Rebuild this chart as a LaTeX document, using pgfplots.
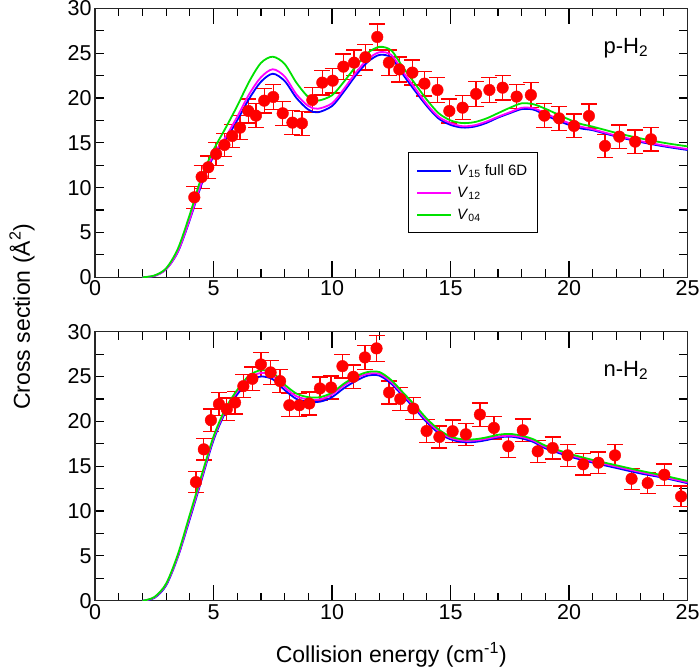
\documentclass[border=0pt]{standalone}
\usepackage{pgfplots}
\usepackage{pgfplotstable}
\pgfplotsset{compat=1.18}
\usepackage{fontspec}
\setmainfont{Liberation Sans}
\definecolor{cblue}{RGB}{0,0,255}
\definecolor{cmag}{RGB}{255,0,255}
\definecolor{cgreen}{RGB}{0,225,0}

% top panel experimental data (p-H2)
\pgfplotstableread{
x y e
4.19 8.92 1.22
4.50 11.19 1.25
4.78 12.27 1.26
5.11 13.75 1.28
5.46 14.76 1.29
5.79 15.76 1.30
6.12 16.69 1.32
6.47 18.55 1.34
6.79 18.03 1.33
7.14 19.70 1.36
7.52 20.11 1.36
7.92 18.29 1.34
8.33 17.25 1.32
8.73 17.17 1.32
9.17 19.78 1.36
9.59 21.71 1.38
10.03 21.93 1.39
10.48 23.49 1.41
10.93 23.94 1.41
11.41 24.54 1.42
11.91 26.80 1.45
12.40 23.94 1.41
12.84 23.18 1.40
13.39 22.83 1.40
13.90 21.60 1.38
14.45 20.89 1.37
14.95 18.55 1.34
15.51 18.92 1.35
16.08 20.45 1.37
16.64 20.89 1.37
17.20 21.15 1.37
17.79 20.15 1.36
18.39 20.33 1.36
18.96 18.03 1.33
19.58 17.73 1.33
20.21 16.88 1.32
20.84 17.99 1.33
21.52 14.65 1.29
22.12 15.69 1.30
22.79 15.13 1.30
23.46 15.39 1.30
}\pdata

% bottom panel experimental data (n-H2)
\pgfplotstableread{
x y e
4.26 13.23 1.15
4.59 16.88 1.20
4.89 20.13 1.25
5.23 21.92 1.27
5.56 21.36 1.26
5.91 22.10 1.27
6.26 23.93 1.30
6.64 24.75 1.31
7.00 26.35 1.33
7.41 25.46 1.32
7.81 24.49 1.30
8.20 21.80 1.27
8.62 21.80 1.27
9.04 21.99 1.27
9.49 23.67 1.29
9.96 23.78 1.29
10.44 26.16 1.33
10.90 24.97 1.31
11.39 27.13 1.35
11.88 28.14 1.47
12.41 23.22 1.29
12.88 22.50 1.28
13.43 21.43 1.26
13.99 18.93 1.25
14.53 18.26 1.24
15.09 18.90 1.25
15.65 18.56 1.24
16.24 20.76 1.30
16.83 19.27 1.25
17.44 17.22 1.22
18.05 19.01 1.25
18.68 16.66 1.22
19.31 17.03 1.22
19.94 16.21 1.21
20.60 15.21 1.20
21.24 15.39 1.20
21.94 16.21 1.21
22.64 13.60 1.18
23.32 13.12 1.17
24.02 14.05 1.18
24.73 11.63 1.15
}\ndata

% theory curves, top panel: x, V04 (green), V12 (magenta), V15 (blue)
\pgfplotstableread{
x g m b
2.0 0 0 0
2.5 0.2 0.15 0.15
3.0 1.0 0.9 0.9
3.5 3.2 2.9 2.85
4.0 7.0 6.5 6.4
4.5 11.2 10.6 10.4
5.0 14.2 13.7 13.5
5.5 16.6 15.6 15.3
6.0 19.1 17.9 17.5
6.5 21.8 20.4 19.9
7.0 23.9 22.3 21.8
7.5 24.6 23.2 22.7
8.0 23.8 22.4 21.9
8.5 21.7 20.4 20.0
9.0 20.1 19.1 18.7
9.4 19.7 18.8 18.4
10.0 20.3 19.4 19.1
10.5 21.8 21.0 20.7
11.0 23.5 22.8 22.5
11.5 25.0 24.3 24.0
12.0 25.7 25.1 24.8
12.5 25.3 24.8 24.5
13.0 23.4 22.9 22.6
13.5 21.6 21.1 20.8
14.0 19.8 19.3 19.1
14.5 18.3 17.9 17.7
15.0 17.5 17.2 17.0
15.5 17.2 16.85 16.7
16.0 17.3 16.95 16.8
16.5 17.7 17.35 17.2
17.0 18.3 17.9 17.8
17.5 18.9 18.4 18.3
18.0 19.4 18.9 18.75
18.5 19.3 18.85 18.7
19.0 18.8 18.3 18.1
19.5 18.2 17.7 17.5
20.0 17.6 17.2 17.0
20.5 17.1 16.8 16.6
21.0 16.8 16.5 16.4
22.0 16.1 15.8 15.7
23.0 15.5 15.2 15.1
24.0 15.0 14.7 14.6
25.0 14.6 14.3 14.2
}\ptheory

% theory curves, bottom panel
\pgfplotstableread{
x g m b
2.0 0 0 0
2.5 0.4 0.35 0.3
3.0 1.9 1.8 1.7
3.5 5.2 5.0 4.9
4.0 9.6 9.3 9.1
4.5 14.0 13.7 13.5
5.0 18.3 18.1 17.9
5.5 21.4 21.2 21.0
6.0 23.5 23.3 23.0
6.5 25.1 24.8 24.5
7.0 25.7 25.4 25.0
7.5 25.4 25.1 24.7
8.0 24.1 23.8 23.5
8.5 23.1 22.8 22.5
9.0 22.7 22.45 22.2
9.5 22.7 22.45 22.2
10.0 23.2 23.0 22.7
10.5 24.2 24.0 23.7
11.0 25.0 24.8 24.5
11.5 25.5 25.3 25.1
12.0 25.5 25.3 25.1
12.5 24.6 24.4 24.2
13.0 23.2 23.0 22.8
13.5 21.8 21.6 21.4
14.0 20.3 20.1 19.9
14.5 19.1 18.9 18.7
15.0 18.3 18.15 18.0
15.5 18.0 17.85 17.7
16.0 18.0 17.85 17.7
16.5 18.2 18.05 17.9
17.0 18.5 18.3 18.2
17.5 18.6 18.4 18.3
18.0 18.4 18.25 18.1
18.5 18.0 17.85 17.7
19.0 17.3 17.15 17.0
20.0 16.4 16.25 16.1
21.0 15.7 15.55 15.4
22.0 15.1 14.95 14.8
23.0 14.5 14.35 14.2
24.0 13.95 13.8 13.7
25.0 13.35 13.2 13.1
}\ntheory

\pgfplotsset{
  panel/.style={
    width=592.5pt, height=269pt, scale only axis,
    xmin=0, xmax=25, ymin=0, ymax=30,
    xtick={0,5,...,25}, minor x tick num=4,
    ytick={0,5,...,30}, minor y tick num=1,
    tick align=inside,
    xtick style={/pgfplots/major tick length=16pt, /pgfplots/minor tick length=8pt, line width=1.2pt, black},
    ytick style={/pgfplots/major tick length=9pt, /pgfplots/minor tick length=9pt, line width=1.2pt, black},
    axis line style={line width=1.5pt, black!85},
    tick label style={font=\fontsize{21.5}{25}\selectfont},
    label style={font=\fontsize{23}{27}\selectfont},
    /pgf/number format/assume math mode=true,
    clip=true,
  },
  expdata/.style={only marks, mark=*, mark size=5.8pt, red,
    mark options={fill=red, draw=red},
    error bars/y dir=both, error bars/y explicit,
    error bars/error bar style={red, line width=1.3pt},
    error bars/error mark options={rotate=90, red, mark size=8pt, line width=1.3pt}},
  theo/.style={line width=1.8pt, smooth, no marks},
}

\begin{document}
\begin{tikzpicture}
\useasboundingbox (-95pt,8.3pt) rectangle (605pt,-657.7pt);

\begin{axis}[panel, at={(0pt,0pt)}, anchor=north west,
  legend style={at={(0.528,0.466)}, anchor=north west, draw=black, line width=1.2pt,
    font=\fontsize{15}{17}\selectfont, inner xsep=8pt, inner ysep=10pt,
    row sep=6pt, column sep=3pt, cells={anchor=west}},
  legend cell align=left,
  legend image code/.code={\draw[#1, line width=1.8pt] (0pt,0pt) -- (34pt,0pt);},
]
\addplot[expdata, forget plot] table[x=x, y=y, y error=e] {\pdata};
\addplot[theo, cblue] table[x=x, y=b] {\ptheory};
\addlegendentry{\textit{V}\textsubscript{15} full 6D}
\addplot[theo, cmag] table[x=x, y=m] {\ptheory};
\addlegendentry{\textit{V}\textsubscript{12}}
\addplot[theo, cgreen] table[x=x, y=g] {\ptheory};
\addlegendentry{\textit{V}\textsubscript{04}}
\node[font=\fontsize{22}{26}\selectfont] at (axis cs:22.4,25.6) {p-H\textsubscript{2}};
\end{axis}

\begin{axis}[panel, at={(0pt,-323.4pt)}, anchor=north west,
  xlabel={Collision energy (cm\textsuperscript{-1})},
  xlabel style={at={(axis description cs:0.5,0)}, anchor=base, yshift=-61.7pt},
]
\addplot[expdata] table[x=x, y=y, y error=e] {\ndata};
\addplot[theo, cblue] table[x=x, y=b] {\ntheory};
\addplot[theo, cmag] table[x=x, y=m] {\ntheory};
\addplot[theo, cgreen] table[x=x, y=g] {\ntheory};
\node[font=\fontsize{22}{26}\selectfont] at (axis cs:22.4,25.7) {n-H\textsubscript{2}};
\end{axis}

\node[rotate=90, font=\fontsize{23}{27}\selectfont] at (-73pt,-308.4pt) {Cross section (Å\textsuperscript{2})};
\end{tikzpicture}
\end{document}
